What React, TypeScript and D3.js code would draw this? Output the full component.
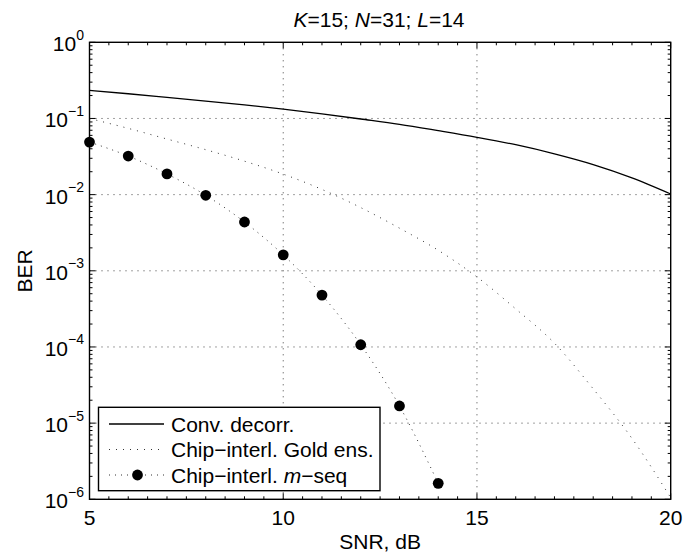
import React from "react";
import * as d3 from "d3";

const snr = [5, 6, 7, 8, 9, 10, 11, 12, 13, 14, 15, 16, 17, 18, 19, 20];
const convDecorr = [0.234, 0.211, 0.189, 0.169, 0.151, 0.133, 0.115, 0.0984, 0.0838, 0.0692, 0.0566, 0.0452, 0.0343, 0.0248, 0.0166, 0.0102];
const goldEns = [0.1, 0.0741, 0.0537, 0.0389, 0.0275, 0.0186, 0.0117, 0.00676, 0.00363, 0.00186, 8.3e-4, 3.16e-4, 1.12e-4, 2.82e-5, 6.3e-6, 1.05e-6];
const mSeqSnr = [5, 6, 7, 8, 9, 10, 11, 12, 13, 14];
const mSeq = [0.049, 0.0321, 0.0187, 0.0098, 0.00437, 0.00162, 4.8e-4, 1.07e-4, 1.68e-5, 1.62e-6];

const xTicks = [5, 10, 15, 20];
const yExponents = [0, -1, -2, -3, -4, -5, -6];
const legendLabels = ["Conv. decorr.", "Chip\u2212interl. Gold ens.", "Chip\u2212interl. "];

const W = 684, H = 555;
const L = 89.5, R = 670.7, T = 42.3, B = 499.3;
const FONT = "'Liberation Sans', Arial, Helvetica, sans-serif";
const FS = 21;

export default function App() {
  const x = d3.scaleLinear().domain([5, 20]).range([L, R]);
  const y = d3.scaleLog().domain([1e-6, 1]).range([B, T]);

  const line = d3
    .line<[number, number]>()
    .x((d) => x(d[0]))
    .y((d) => y(d[1]))
    .curve(d3.curveMonotoneX);

  const convPath = line(snr.map((s, i) => [s, convDecorr[i]]))!;
  const goldPath = line(snr.map((s, i) => [s, goldEns[i]]))!;
  const mPath = line(mSeqSnr.map((s, i) => [s, mSeq[i]]))!;

  const xMinor = d3.range(5, 20.01, 0.5).filter((v) => !xTicks.includes(v));
  const yMinor: number[] = [];
  for (let e = -6; e < 0; e++) for (let k = 2; k <= 9; k++) yMinor.push(k * Math.pow(10, e));

  const gridColor = "#444";
  const tickColor = "#000";

  const lgL = 98.5, lgT = 407.3, lgR = 380, lgB = 490.7;
  const rows = [424, 449.5, 475];

  return (
    <svg width={W} height={H} style={{ position: "absolute", left: 0, top: 0, background: "#fff" }} fontFamily={FONT}>
      <rect x={0} y={0} width={W} height={H} fill="#fff" />
      <defs>
        <clipPath id="plotclip">
          <rect x={L} y={T} width={R - L} height={B - T} />
        </clipPath>
      </defs>
      {/* grid */}
      {xTicks.filter((v) => v !== 5 && v !== 20).map((v) => (
        <line key={"gx" + v} x1={x(v)} x2={x(v)} y1={T} y2={B} stroke={gridColor} strokeWidth={1} strokeDasharray="1 5" />
      ))}
      {yExponents.filter((e) => e !== 0 && e !== -6).map((e) => (
        <line key={"gy" + e} x1={L} x2={R} y1={y(Math.pow(10, e))} y2={y(Math.pow(10, e))} stroke={gridColor} strokeWidth={1} strokeDasharray="1 5" />
      ))}
      {/* ticks */}
      {xMinor.map((v) => (
        <g key={"xm" + v}>
          <line x1={x(v)} x2={x(v)} y1={B} y2={B - 3} stroke={tickColor} />
          <line x1={x(v)} x2={x(v)} y1={T} y2={T + 3} stroke={tickColor} />
        </g>
      ))}
      {xTicks.map((v) => (
        <g key={"xt" + v}>
          <line x1={x(v)} x2={x(v)} y1={B} y2={B - 6} stroke={tickColor} />
          <line x1={x(v)} x2={x(v)} y1={T} y2={T + 6} stroke={tickColor} />
        </g>
      ))}
      {yMinor.map((v, i) => (
        <g key={"ym" + i}>
          <line x1={L} x2={L + 3} y1={y(v)} y2={y(v)} stroke={tickColor} />
          <line x1={R} x2={R - 3} y1={y(v)} y2={y(v)} stroke={tickColor} />
        </g>
      ))}
      {yExponents.map((e) => (
        <g key={"yt" + e}>
          <line x1={L} x2={L + 6} y1={y(Math.pow(10, e))} y2={y(Math.pow(10, e))} stroke={tickColor} />
          <line x1={R} x2={R - 6} y1={y(Math.pow(10, e))} y2={y(Math.pow(10, e))} stroke={tickColor} />
        </g>
      ))}
      {/* data */}
      <g clipPath="url(#plotclip)">
        <path d={convPath} fill="none" stroke="#000" strokeWidth={1.3} />
        <path d={goldPath} fill="none" stroke="#333" strokeWidth={1} strokeDasharray="1 6" />
        <path d={mPath} fill="none" stroke="#333" strokeWidth={1} strokeDasharray="1 5" />
      </g>
      {mSeqSnr.map((s, i) => (
        <circle key={"m" + s} cx={x(s)} cy={y(mSeq[i])} r={5.4} fill="#000" />
      ))}
      {/* frame */}
      <rect x={L} y={T} width={R - L} height={B - T} fill="none" stroke="#000" strokeWidth={1.4} />
      {/* x tick labels */}
      {xTicks.map((v) => (
        <text key={"xl" + v} x={x(v)} y={525} fontSize={FS} textAnchor="middle" fill="#000">
          {v}
        </text>
      ))}
      {/* y tick labels */}
      {yExponents.map((e) => (
        <text key={"yl" + e} x={84} y={y(Math.pow(10, e)) + 9} fontSize={FS} textAnchor="end" fill="#000">
          <tspan>10</tspan>
          <tspan dy={-11.5} fontSize={14}>{e === 0 ? "0" : "\u2212" + Math.abs(e)}</tspan>
        </text>
      ))}
      {/* axis labels */}
      <text x={(L + R) / 2} y={548.5} fontSize={FS} textAnchor="middle" fill="#000">SNR, dB</text>
      <text transform={`translate(31.5,${(T + B) / 2}) rotate(-90)`} fontSize={FS} textAnchor="middle" fill="#000">BER</text>
      {/* title */}
      <text x={379} y={26.5} fontSize={FS} textAnchor="middle" fill="#000">
        <tspan fontStyle="italic">K</tspan>=15; <tspan fontStyle="italic">N</tspan>=31; <tspan fontStyle="italic">L</tspan>=14
      </text>
      {/* legend */}
      <rect x={lgL} y={lgT} width={lgR - lgL} height={lgB - lgT} fill="#fff" stroke="#000" strokeWidth={1.4} />
      <line x1={109} x2={164} y1={rows[0]} y2={rows[0]} stroke="#000" strokeWidth={1.3} />
      <line x1={109} x2={164} y1={rows[1]} y2={rows[1]} stroke="#333" strokeWidth={1} strokeDasharray="1 6" />
      <line x1={109} x2={164} y1={rows[2]} y2={rows[2]} stroke="#333" strokeWidth={1} strokeDasharray="1 5" />
      <circle cx={137.5} cy={rows[2]} r={5.4} fill="#000" />
      <text x={171} y={rows[0] + 7.5} fontSize={FS} fill="#000">{legendLabels[0]}</text>
      <text x={171} y={rows[1] + 7.5} fontSize={FS} fill="#000">{legendLabels[1]}</text>
      <text x={171} y={rows[2] + 7.5} fontSize={FS} fill="#000">
        {legendLabels[2]}<tspan fontStyle="italic">m</tspan>{"\u2212seq"}
      </text>
    </svg>
  );
}
